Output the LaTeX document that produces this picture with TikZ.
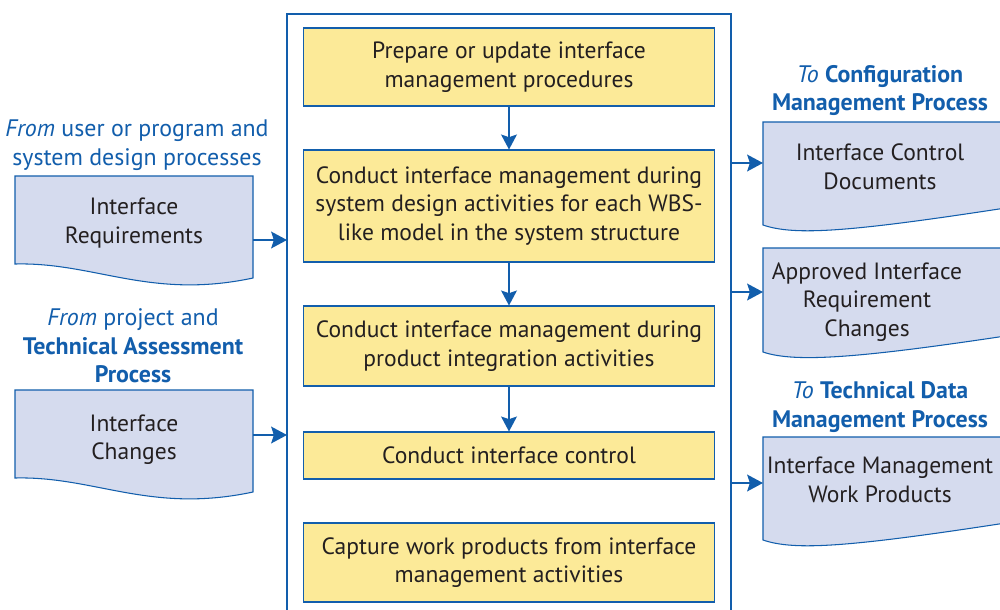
\documentclass[tikz,border=0pt]{standalone}
\usepackage{fontspec}
\setmainfont{PT Sans}
\usetikzlibrary{arrows.meta}
\definecolor{nblue}{RGB}{18,94,172}
\definecolor{nyellow}{RGB}{252,234,152}
\definecolor{nlav}{RGB}{213,219,238}
\definecolor{ntext}{RGB}{35,31,32}
\tikzset{
  ybox/.style={draw=nblue, line width=0.6pt, fill=nyellow, minimum width=8.24cm, align=center, text=ntext, font=\fontsize{13.4}{16.2}\selectfont},
  doctext/.style={align=center, text=ntext, font=\fontsize{13.4}{16.2}\selectfont, yshift=-1.1pt},
  docshape/.style={draw=nblue, line width=0.6pt, fill=nlav},
  lbl/.style={align=center, text=nblue, font=\fontsize{13.6}{16.2}\selectfont, yshift=-1.1pt},
  flow/.style={draw=nblue, line width=0.9pt, -{Stealth[length=8.5pt, width=9pt, inset=1.5pt]}},
  bigflow/.style={draw=nblue, line width=1.2pt, -{Stealth[length=9pt, width=9.5pt, inset=1.5pt]}},
  container/.style={draw=nblue, line width=1.5pt}
}
\begin{document}
\begin{tikzpicture}[x=0.02cm, y=-0.02cm]
\useasboundingbox (0,0) rectangle (1000,609);
\clip (0,0) rectangle (1000,609);
\fill[white] (0,0) rectangle (1000,609);

% container
\draw[container] (287,640) -- (287,14) -- (731,14) -- (731,640);
\coordinate (cL1) at (287,240);
\coordinate (cL2) at (287,435);
\coordinate (cR1) at (731,163);
\coordinate (cR2) at (731,292);
\coordinate (cR3) at (731,483);

% yellow process boxes
\node[ybox, minimum height=1.56cm] (b1) at (509,67) {Prepare or update interface\\management procedures};
\node[ybox, minimum height=2.24cm] (b2) at (509,206) {Conduct interface management during\\system design activities for each WBS-\\like model in the system structure};
\node[ybox, minimum height=1.60cm] (b3) at (509,346) {Conduct interface management during\\product integration activities};
\node[ybox, minimum height=0.94cm] (b4) at (509,455.5) {Conduct interface control};
\node[ybox, minimum height=1.58cm] (b5) at (509,562.5) {Capture work products from interface\\management activities};

\draw[flow] (b1.south) -- (b2.north);
\draw[flow] (b2.south) -- (b3.north);
\draw[flow] (b3.south) -- (b4.north);

% left documents
\draw[docshape] (15,176) -- (253,176) -- (253,278) .. controls (150,300) and (95,262) .. (15,264) -- cycle;
\node[doctext] (dL1) at (134,221) {Interface\\Requirements};
\coordinate (dL1e) at (253,240);
\draw[docshape] (15,390) -- (253,390) -- (253,492) .. controls (150,514) and (95,476) .. (15,478) -- cycle;
\node[doctext] (dL2) at (134,438) {Interface\\Changes};
\coordinate (dL2e) at (253,435);

\draw[bigflow] (dL1e) -- (cL1);
\draw[bigflow] (dL2e) -- (cL2);

% right documents
\draw[docshape] (763,122) -- (1012,122) -- (1012,207) .. controls (850,232) and (795,236) .. (763,225) -- cycle;
\node[doctext] (dR1) at (880,165) {Interface Control\\Documents};
\coordinate (dR1w) at (763,163);
\draw[docshape] (763,248) -- (1012,248) -- (1012,335) .. controls (860,358) and (795,363) .. (763,352) -- cycle;
\node[doctext] (dR2) at (867,300) {Approved Interface\\Requirement\\Changes};
\coordinate (dR2w) at (763,292);
\draw[docshape] (763,437) -- (1012,437) -- (1012,522) .. controls (850,547) and (795,551) .. (763,540) -- cycle;
\node[doctext] (dR3) at (880,478) {Interface Management\\Work Products};
\coordinate (dR3w) at (763,483);

\draw[bigflow] (cR1) -- (dR1w);
\draw[bigflow] (cR2) -- (dR2w);
\draw[bigflow] (cR3) -- (dR3w);

% labels
\node[lbl] (lab1) at (137,143) {\textit{From} user or program and\\system design processes};
\node[lbl] (lab2) at (133,344) {\textit{From} project and\\\textbf{Technical Assessment}\\\textbf{Process}};
\node[lbl] (lab3) at (880,88.5) {\textit{To} \textbf{Configuration}\\\textbf{Management Process}};
\node[lbl] (lab4) at (880,405) {\textit{To} \textbf{Technical Data}\\\textbf{Management Process}};
\end{tikzpicture}
\end{document}
